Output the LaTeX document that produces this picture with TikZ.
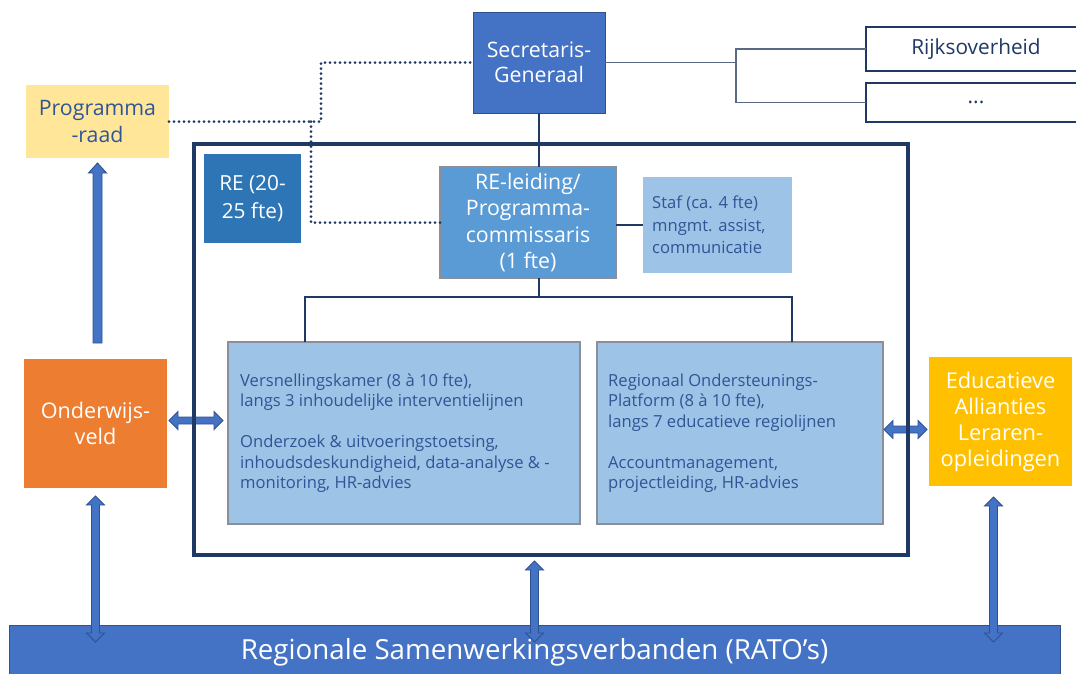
\documentclass[tikz,border=0pt]{standalone}
\usepackage{fontspec}
\setmainfont{Open Sans}
\usetikzlibrary{calc}
\definecolor{sgblue}{HTML}{4472C4}
\definecolor{sgborder}{HTML}{2F528F}
\definecolor{navy}{HTML}{203864}
\definecolor{progfill}{HTML}{FFE699}
\definecolor{refill}{HTML}{2E75B6}
\definecolor{leadfill}{HTML}{5B9BD5}
\definecolor{lightfill}{HTML}{9DC3E6}
\definecolor{grayborder}{HTML}{8A8F99}
\definecolor{owfill}{HTML}{ED7D31}
\definecolor{edufill}{HTML}{FFC000}
\definecolor{txtblue}{HTML}{2F5597}
\definecolor{thinline}{HTML}{5A6A85}
\definecolor{rtxt}{HTML}{1F3864}

% vertical double block arrow: #1 top tip, #2 bottom tip (x taken from #1)
\newcommand{\dblarrV}[2]{%
  \draw[blockarrow] let \p1=(#1), \p2=(#2) in
    (\x1,\y1) -- (\x1+9pt,\y1-9pt) -- (\x1+4pt,\y1-9pt) -- (\x1+4pt,\y2+9pt)
    -- (\x1+9pt,\y2+9pt) -- (\x1,\y2) -- (\x1-9pt,\y2+9pt) -- (\x1-4pt,\y2+9pt)
    -- (\x1-4pt,\y1-9pt) -- (\x1-9pt,\y1-9pt) -- cycle;}
% horizontal double block arrow: #1 left tip, #2 right tip (y taken from #1)
\newcommand{\dblarrH}[2]{%
  \draw[blockarrow] let \p1=(#1), \p2=(#2) in
    (\x1,\y1) -- (\x1+9pt,\y1+9pt) -- (\x1+9pt,\y1+3.5pt) -- (\x2-9pt,\y1+3.5pt)
    -- (\x2-9pt,\y1+9pt) -- (\x2,\y1) -- (\x2-9pt,\y1-9pt) -- (\x2-9pt,\y1-3.5pt)
    -- (\x1+9pt,\y1-3.5pt) -- (\x1+9pt,\y1-9pt) -- cycle;}
% single up block arrow: #1 tip (top), #2 tail (bottom)
\newcommand{\uparr}[2]{%
  \draw[blockarrow] let \p1=(#1), \p2=(#2) in
    (\x1,\y1) -- (\x1+9pt,\y1-10pt) -- (\x1+4.5pt,\y1-10pt) -- (\x1+4.5pt,\y2)
    -- (\x1-4.5pt,\y2) -- (\x1-4.5pt,\y1-10pt) -- (\x1-9pt,\y1-10pt) -- cycle;}

\tikzset{
  box/.style={inner sep=0pt, outer sep=0pt, anchor=north west, align=center},
  sgbox/.style={box, fill=sgblue, draw=sgborder, line width=1pt, text=white,
    font=\fontsize{21.3}{25}\selectfont},
  rbox/.style={box, fill=white, draw=rtxt, line width=1.5pt, text=rtxt,
    font=\fontsize{20.8}{24}\selectfont},
  progbox/.style={box, fill=progfill, text=txtblue, font=\fontsize{21.3}{27}\selectfont},
  rebox/.style={box, fill=refill, text=white, font=\fontsize{20.8}{28}\selectfont},
  leadbox/.style={box, fill=leadfill, draw=grayborder, line width=1.2pt, text=white,
    font=\fontsize{21.3}{26.5}\selectfont},
  stafbox/.style={box, fill=lightfill},
  lbbox/.style={box, fill=lightfill, draw=grayborder, line width=1.2pt},
  btxt/.style={inner sep=0pt, anchor=west, align=left, text=txtblue,
    font=\fontsize{16.6}{20.5}\selectfont},
  stxt/.style={inner sep=0pt, anchor=west, align=left, text=txtblue,
    font=\fontsize{16.6}{22.5}\selectfont},
  owbox/.style={box, fill=owfill, text=white, font=\fontsize{21.6}{26}\selectfont},
  edubox/.style={box, fill=edufill, text=white, font=\fontsize{21.8}{26}\selectfont},
  barbox/.style={box, fill=sgblue, draw=sgborder, line width=1pt, text=white,
    font=\fontsize{27.7}{30}\selectfont},
  framebox/.style={box, draw=navy, line width=3.2pt},
  blockarrow/.style={fill=sgblue, draw=sgborder, line width=0.9pt, line join=miter},
  treeline/.style={draw=navy, line width=2.6pt},
  thin/.style={draw=thinline, line width=1.2pt},
  dotline/.style={draw=navy, line width=3pt, line cap=round, dash pattern=on 0pt off 5pt},
}

\begin{document}
\begin{tikzpicture}[x=1pt, y=-1pt]
\path[use as bounding box] (0,0) rectangle (1076,673);
\clip (0,0) rectangle (1076,673);

% boxes
\node[barbox, minimum width=1051pt, minimum height=55pt] (bar) at (9,625) {Regionale Samenwerkingsverbanden (RATO’s)};
\node[sgbox, minimum width=132pt, minimum height=101pt] (sg) at (473,12) {Secretaris-\\Generaal};
\node[rbox, minimum width=220pt, minimum height=44pt] (rijk) at (866,27) {Rijksoverheid};
\node[rbox, minimum width=220pt, minimum height=39pt] (dots) at (866,83) {...};
\node[progbox, minimum width=143pt, minimum height=73pt] (prog) at (26,85) {Programma\\-raad};
\node[rebox, minimum width=97pt, minimum height=89pt] (re) at (204,154) {RE (20-\\25 fte)};
\node[leadbox, minimum width=176pt, minimum height=111pt] (lead) at (440,167) {RE-leiding/\\Programma-\\commissaris\\(1 fte)};
\node[stafbox, minimum width=149pt, minimum height=96pt] (staf) at (643,177) {};
\node[stxt] (staftxt) at ([xshift=9pt]staf.west) {Staf (ca. 4 fte)\\mngmt. assist,\\communicatie};
\node[lbbox, minimum width=352pt, minimum height=182pt] (vk) at (228,342) {};
\node[btxt] (vktxt) at ([xshift=12pt]vk.west) {Versnellingskamer (8 à 10 fte),\\langs 3 inhoudelijke interventielijnen\\[20.5pt]Onderzoek \& uitvoeringstoetsing,\\inhoudsdeskundigheid, data-analyse \& -\\monitoring, HR-advies};
\node[lbbox, minimum width=286pt, minimum height=182pt] (rop) at (597,342) {};
\node[btxt] (roptxt) at ([xshift=11pt]rop.west) {Regionaal Ondersteunings-\\Platform (8 à 10 fte),\\langs 7 educatieve regiolijnen\\[20.5pt]Accountmanagement,\\projectleiding, HR-advies};
\node[owbox, minimum width=143pt, minimum height=129pt] (ow) at (24,359) {Onderwijs-\\veld};
\node[edubox, minimum width=143pt, minimum height=129pt] (edu) at (929,357) {Educatieve\\Allianties\\Leraren-\\opleidingen};

% block arrows
\uparr{$(prog.south)+(0,5)$}{$(ow.north)+(0,-16)$}
\dblarrH{$(ow.east)+(2,-3)$}{$(vk.west)+(-5,0)$}
\dblarrH{$(rop.east)+(1,-3.5)$}{$(edu.west)+(-2,0)$}
\dblarrV{$(ow.south)+(0,8)$}{$(bar.north)+(0,17)$}
\dblarrV{$(bar.north)+(0,-64)$}{$(bar.north)+(0,17)$}
\dblarrV{$(edu.south)+(-7,11)$}{$(bar.north)+(0,17)$}

% frame
\node[framebox, minimum width=714pt, minimum height=411pt] (frame) at (194,144) {};

% connectors
\coordinate (sj) at (736,62.5);
\draw[thin] (sg.east) -- (sj);
\draw[thin] (rijk.west) -| (sj) |- (dots.west);

\draw[treeline] (sg.south) -- (sg.south |- lead.north);
\draw[treeline] (staf.west -| lead.east) -- (staf.west);
\coordinate (tj) at (539,297);
\draw[treeline] (lead.south -| tj) -- (tj);
\draw[treeline] ($(vk.north west)+(77,0)$) |- (tj) -| ($(rop.north west)+(195,0)$);

\coordinate (d1) at (321,0);
\coordinate (d2) at (311,0);
\draw[dotline] (prog.east) -- (prog.east -| d1) |- (sg.west);
\draw[dotline] (prog.east -| d2) |- (lead.west);
\end{tikzpicture}
\end{document}
